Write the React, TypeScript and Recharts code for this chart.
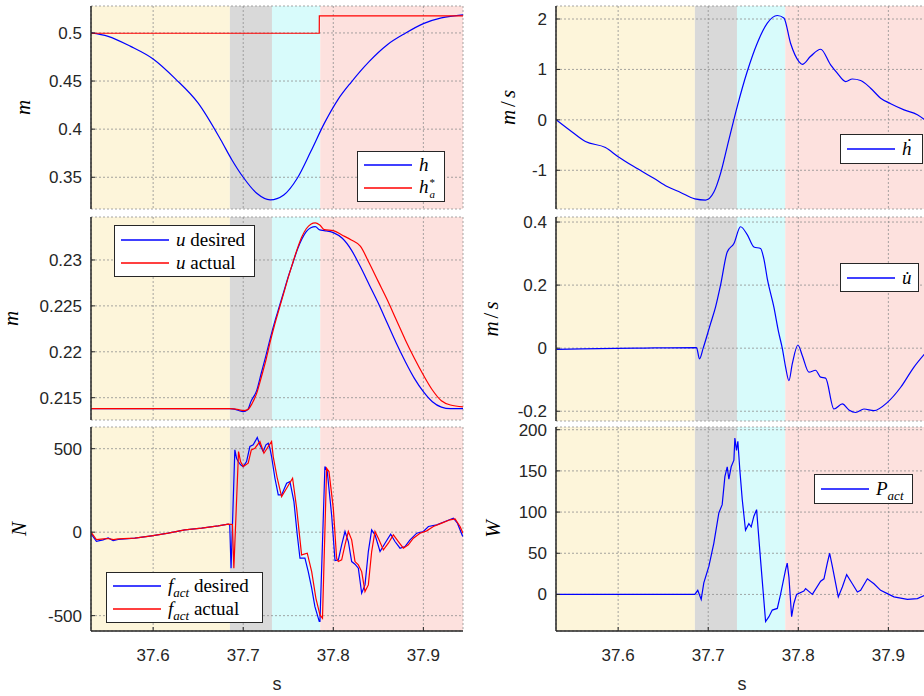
import { LineChart, Line, XAxis, YAxis, CartesianGrid, ReferenceArea, Legend, Label } from 'recharts'
import type { ReactNode } from 'react'

const SANS = '"Liberation Sans", Arial, Helvetica, sans-serif'
const SERIF = '"Liberation Serif", "Times New Roman", serif'
const INK = '#262626'
const BLUE = '#0000FF'
const RED = '#FF0000'

const xDomain: [number, number] = [37.531, 37.944]
const xTicks = [37.6, 37.7, 37.8, 37.9]

// phase bands shared by all panels
const phaseEdges = [37.531, 37.6852, 37.7319, 37.7855, 37.944]
const phaseColors = ['#FDF5DA', '#D9D9D9', '#D8FBFB', '#FDE1DE']

// h and h*_a
const hT = [37.531, 37.55, 37.575, 37.6, 37.625, 37.65, 37.675, 37.6875, 37.7, 37.715, 37.73, 37.745, 37.76, 37.775, 37.79, 37.805, 37.82, 37.84, 37.86, 37.88, 37.9, 37.92, 37.944]
const hV = [0.5, 0.4965, 0.486, 0.4729, 0.452, 0.427, 0.389, 0.368, 0.35, 0.3333, 0.3265, 0.3316, 0.349, 0.3767, 0.406, 0.4305, 0.449, 0.4705, 0.4878, 0.4997, 0.5097, 0.5156, 0.5187]
const hStarT = [37.531, 37.7844, 37.7845, 37.944]
const hStarV = [0.4997, 0.4997, 0.5177, 0.5177]

// u desired / actual
const uT = [37.531, 37.685, 37.69, 37.695, 37.7, 37.705, 37.7085, 37.715, 37.72, 37.725, 37.73, 37.735, 37.74, 37.745, 37.75, 37.755, 37.76, 37.765, 37.77, 37.775, 37.78, 37.785, 37.79, 37.8, 37.81, 37.82, 37.83, 37.84, 37.85, 37.86, 37.87, 37.88, 37.89, 37.9, 37.91, 37.92, 37.93, 37.944]
const uV = [0.2138, 0.2138, 0.21375, 0.2136, 0.21348, 0.2137, 0.21457, 0.2158, 0.21766, 0.2195, 0.22147, 0.22328, 0.2249, 0.22655, 0.22819, 0.22964, 0.2311, 0.23225, 0.23308, 0.2335, 0.23363, 0.23327, 0.2332, 0.23298, 0.23236, 0.2311, 0.22928, 0.22728, 0.22528, 0.2231, 0.22093, 0.21892, 0.21711, 0.21566, 0.21456, 0.21397, 0.2138, 0.2138]
const uActT = [37.531, 37.685, 37.695, 37.7, 37.705, 37.71, 37.715, 37.72, 37.725, 37.73, 37.735, 37.74, 37.745, 37.75, 37.755, 37.76, 37.765, 37.77, 37.775, 37.78, 37.785, 37.79, 37.8, 37.81, 37.82, 37.83, 37.84, 37.85, 37.86, 37.87, 37.88, 37.89, 37.9, 37.91, 37.92, 37.93, 37.944]
const uActV = [0.2138, 0.2138, 0.2137, 0.2136, 0.2137, 0.2144, 0.2155, 0.2172, 0.219, 0.2211, 0.223, 0.2247, 0.2264, 0.2281, 0.2297, 0.2312, 0.2325, 0.2334, 0.2339, 0.23405, 0.2338, 0.2333, 0.23319, 0.2327, 0.23218, 0.2315, 0.22964, 0.22764, 0.22564, 0.22346, 0.22129, 0.2193, 0.21747, 0.21584, 0.21467, 0.2142, 0.214]

// f_act desired / actual (N)
const fDesT = [37.531, 37.537, 37.5444, 37.55, 37.5556, 37.5611, 37.5796, 37.5982, 37.6167, 37.6352, 37.6538, 37.6722, 37.6833, 37.685, 37.6865, 37.6907, 37.6926, 37.6944, 37.6971, 37.7, 37.7037, 37.7074, 37.7111, 37.7156, 37.7185, 37.7222, 37.7252, 37.7278, 37.7296, 37.7315, 37.7352, 37.7389, 37.7426, 37.7482, 37.7519, 37.7563, 37.76, 37.763, 37.7685, 37.7722, 37.776, 37.7796, 37.7844, 37.7852, 37.7907, 37.7933, 37.7982, 37.8019, 37.8056, 37.8093, 37.813, 37.8167, 37.8204, 37.8241, 37.8278, 37.8315, 37.8352, 37.8389, 37.8426, 37.8463, 37.8519, 37.8574, 37.8637, 37.8685, 37.8741, 37.8796, 37.8852, 37.8926, 37.9, 37.9056, 37.9148, 37.9241, 37.9333, 37.9378, 37.9437]
const fDesV = [-10, -55, -46, -35, -50, -44, -36, -22, -6, 14, 24, 38, 48, 44, -216, 493, 443, 423, 403, 393, 423, 513, 523, 567, 523, 483, 523, 533, 503, 453, 323, 223, 223, 293, 303, 183, -16, -156, -156, -236, -335, -446, -535, -535, 393, 363, 100, -170, -166, -76, 4, -56, -176, -192, -216, -365, -316, -116, 14, -16, -116, -66, -12, -56, -96, -86, -46, -6, 4, 34, 44, 64, 84, 54, -26]
const fActT = [37.531, 37.537, 37.545, 37.55, 37.556, 37.5611, 37.5796, 37.5982, 37.6167, 37.6352, 37.6538, 37.6722, 37.6833, 37.688, 37.6896, 37.6948, 37.697, 37.7, 37.7055, 37.709, 37.713, 37.7185, 37.723, 37.7278, 37.7315, 37.7333, 37.7378, 37.7426, 37.7482, 37.7548, 37.7593, 37.7648, 37.7711, 37.776, 37.7807, 37.7852, 37.788, 37.7926, 37.7952, 37.8, 37.8037, 37.8056, 37.8093, 37.813, 37.8167, 37.8204, 37.8241, 37.8278, 37.8315, 37.8352, 37.8389, 37.8426, 37.8463, 37.85, 37.8556, 37.8611, 37.8667, 37.8722, 37.8778, 37.8833, 37.8889, 37.8963, 37.9037, 37.9111, 37.9204, 37.9296, 37.9352, 37.9407, 37.944]
const fActV = [0, -45, -40, -38, -45, -40, -36, -22, -6, 14, 24, 38, 48, 46, -216, 483, 423, 393, 413, 493, 503, 543, 473, 513, 543, 453, 323, 213, 263, 323, 144, -136, -126, -236, -396, -496, -516, 383, 363, 144, -156, -176, -166, -76, 4, -46, -176, -196, -236, -356, -316, -116, 4, -36, -106, -66, -16, -56, -96, -76, -36, -6, 8, 34, 54, 74, 80, 34, -6]

// h dot (m/s)
const hDotT = [37.5314, 37.546, 37.5637, 37.5859, 37.6, 37.6174, 37.6396, 37.6544, 37.6693, 37.6851, 37.697, 37.7063, 37.7137, 37.7211, 37.7322, 37.7433, 37.7544, 37.7656, 37.7767, 37.784, 37.7914, 37.8007, 37.8044, 37.8137, 37.8248, 37.8359, 37.8433, 37.8526, 37.86, 37.8692, 37.8803, 37.8914, 37.9026, 37.9174, 37.9322, 37.9403]
const hDotV = [0, -0.2, -0.43, -0.55, -0.73, -0.926, -1.157, -1.32, -1.44, -1.567, -1.59, -1.43, -1.06, -0.53, 0.264, 0.958, 1.52, 1.92, 2.07, 2.02, 1.52, 1.157, 1.1, 1.26, 1.4, 1.09, 0.926, 0.76, 0.81, 0.78, 0.628, 0.43, 0.32, 0.198, 0.1, 0]

// u dot (m/s)
const uDotT = [37.5314, 37.56, 37.62, 37.687, 37.6903, 37.6944, 37.7026, 37.7081, 37.7137, 37.7211, 37.7285, 37.7359, 37.7433, 37.7507, 37.7581, 37.762, 37.7656, 37.7729, 37.7782, 37.7822, 37.7859, 37.7896, 37.7933, 37.7996, 37.8044, 37.8118, 37.8192, 37.8248, 37.8303, 37.8396, 37.8489, 37.8562, 37.8637, 37.8729, 37.884, 37.8989, 37.9137, 37.9284, 37.9403]
const uDotV = [-0.004, -0.002, 0, 0.002, -0.034, 0, 0.078, 0.13, 0.2, 0.305, 0.332, 0.385, 0.36, 0.321, 0.316, 0.28, 0.22, 0.13, 0.05, 0, -0.06, -0.103, -0.05, 0.01, -0.023, -0.076, -0.07, -0.092, -0.095, -0.193, -0.177, -0.196, -0.204, -0.193, -0.198, -0.172, -0.124, -0.06, -0.018]

// P_act (W)
const pT = [37.531, 37.6851, 37.6884, 37.6922, 37.6951, 37.7007, 37.7062, 37.7118, 37.7155, 37.7185, 37.7211, 37.7229, 37.7255, 37.7285, 37.7296, 37.7314, 37.7329, 37.7351, 37.7378, 37.7414, 37.7451, 37.7477, 37.7507, 37.7537, 37.7581, 37.7637, 37.7674, 37.7711, 37.7767, 37.7803, 37.7859, 37.7877, 37.7896, 37.7926, 37.7951, 37.7981, 37.8062, 37.8081, 37.8156, 37.8248, 37.8285, 37.8322, 37.8348, 37.8378, 37.8444, 37.8489, 37.8537, 37.86, 37.8656, 37.8692, 37.8767, 37.884, 37.8914, 37.8989, 37.9062, 37.9211, 37.9322, 37.9403]
const pV = [0, 0, 5, -6, 14, 34, 62, 99, 109, 143, 155, 140, 155, 163, 190, 175, 186, 151, 115, 78, 86, 82, 95, 103, 42, -33, -27, -19, -17, 0, 30, 38, 21, -27, -11, 0, 4, 7, 0, 16, 19, 38, 50, 34, -3, 9, 24, 13, 3, 5, 19, 13, 5, 1, -3, -6, -5, -1]

const zip = (t: number[], v: number[]) => t.map((x, i) => ({ t: x, v: v[i] }))

type Series = { t: number[]; v: number[]; color: string; smooth?: boolean }
type LegendItem = { color: string; label: ReactNode }
type LegendSpec = { x: number; y: number; w: number; h: number; items: LegendItem[] }

const Sub = ({ children }: { children: ReactNode }) => (
  <span style={{ fontSize: 13, fontStyle: 'italic', position: 'relative', top: 5 }}>{children}</span>
)

function LegendBox({ spec }: { spec: LegendSpec }) {
  return (
    <div style={{
      width: spec.w, height: spec.h, boxSizing: 'border-box', border: `1px solid ${INK}`, background: '#fff',
      display: 'flex', flexDirection: 'column', justifyContent: 'center', padding: '0 6px',
      fontFamily: SERIF, fontSize: 19, color: '#000',
    }}>
      {spec.items.map((it, i) => (
        <div key={i} style={{ display: 'flex', alignItems: 'center', height: 23, whiteSpace: 'nowrap' }}>
          <svg width={48} height={6} style={{ marginRight: 7, flex: 'none', display: 'block' }}>
            <line x1={0} y1={3} x2={48} y2={3} stroke={it.color} strokeWidth={1.5} />
          </svg>
          <span>{it.label}</span>
        </div>
      ))}
    </div>
  )
}

function yLabel(text: ReactNode, x: number) {
  return (
    <Label content={(p: any) => {
      const vb = p.viewBox
      const cy = vb.y + vb.height / 2
      return (
        <text x={x} y={cy} transform={`rotate(-90 ${x} ${cy})`} textAnchor="middle"
          style={{ fontFamily: SERIF, fontSize: 21, fontStyle: 'italic', fill: '#000' }}>{text}</text>
      )
    }} />
  )
}

interface PanelProps {
  left: number; top: number; width: number; right: number
  marginTop: number; plotH: number; bottom?: boolean
  yDomain: [number, number]; yTicks: number[]; label: ReactNode; labelX: number
  series: Series[]; legend: LegendSpec
}

function Panel(p: PanelProps) {
  const xH = p.bottom ? 65 : 0
  const height = p.marginTop + p.plotH + xH + (p.bottom ? 0 : 1)
  return (
    <div style={{ position: 'absolute', left: p.left, top: p.top }}>
      <LineChart width={p.width} height={height} margin={{ top: p.marginTop, right: p.right, bottom: p.bottom ? 0 : 1, left: 0 }}>
        {phaseColors.map((c, i) => (
          <ReferenceArea key={i} x1={phaseEdges[i]} x2={phaseEdges[i + 1]} fill={c} fillOpacity={1} stroke="none"
            ifOverflow="hidden" zIndex={-150} />
        ))}
        <CartesianGrid stroke="#8f8f8f" strokeDasharray="2 2" strokeWidth={0.8} zIndex={-50} />
        <XAxis type="number" dataKey="t" domain={xDomain} ticks={xTicks} allowDataOverflow interval={0}
          height={xH} tickSize={-4} tickMargin={22}
          tickFormatter={p.bottom ? (v: number) => String(v) : () => ''}
          axisLine={{ stroke: INK, strokeWidth: 1.5 }} tickLine={{ stroke: INK }}
          tick={{ fill: INK, fontSize: 17, fontFamily: SANS }}
          label={p.bottom ? { value: 's', position: 'insideBottom', offset: 6, fill: INK, fontSize: 18, fontFamily: SANS } : undefined} />
        <YAxis type="number" domain={p.yDomain} ticks={p.yTicks} allowDataOverflow interval={0} width={91}
          tickSize={-4} tickMargin={13} tickFormatter={(v: number) => String(v)}
          axisLine={{ stroke: INK, strokeWidth: 1.5 }} tickLine={{ stroke: INK }}
          tick={{ fill: INK, fontSize: 17, fontFamily: SANS }}>
          {yLabel(p.label, p.labelX)}
        </YAxis>
        {p.series.map((s, i) => (
          <Line key={i} data={zip(s.t, s.v)} dataKey="v" type={s.smooth ? 'monotone' : 'linear'} stroke={s.color}
            strokeWidth={1.2} dot={false} isAnimationActive={false} />
        ))}
        <Legend layout="vertical" align="center" verticalAlign="middle"
          wrapperStyle={{ left: p.legend.x, top: p.legend.y, width: p.legend.w, height: p.legend.h }}
          content={() => <LegendBox spec={p.legend} />} />
      </LineChart>
    </div>
  )
}

const slashLabel = <><tspan>m</tspan><tspan dx={3} fontStyle="normal">/</tspan><tspan dx={3}>s</tspan></>

export default function App() {
  const L = { left: 0, width: 470, right: 7 }
  const R = { left: 465, width: 463, right: 0 }
  return (
    <div style={{ position: 'fixed', left: 0, top: 0, width: 924, height: 696, overflow: 'hidden', background: '#fff' }}>
      <Panel {...L} top={0} marginTop={6} plotH={203} yDomain={[0.317, 0.528]} yTicks={[0.35, 0.4, 0.45, 0.5]}
        label="m" labelX={30}
        series={[{ t: hT, v: hV, color: BLUE, smooth: true }, { t: hStarT, v: hStarV, color: RED }]}
        legend={{ x: 357, y: 151, w: 88, h: 51, items: [
          { color: BLUE, label: <i>h</i> },
          { color: RED, label: <><i>h</i><span style={{ display: 'inline-flex', flexDirection: 'column', fontSize: 11, lineHeight: '12px', verticalAlign: 'middle', marginLeft: 1 }}><span>*</span><i>a</i></span></> },
        ] }} />
      <Panel {...L} top={210} marginTop={7} plotH={203} yDomain={[0.21257, 0.23468]} yTicks={[0.215, 0.22, 0.225, 0.23]}
        label="m" labelX={18}
        series={[{ t: uT, v: uV, color: BLUE, smooth: true }, { t: uActT, v: uActV, color: RED, smooth: true }]}
        legend={{ x: 114, y: 15, w: 141, h: 52, items: [
          { color: BLUE, label: <><i>u</i> desired</> },
          { color: RED, label: <><i>u</i> actual</> },
        ] }} />
      <Panel {...L} top={420} marginTop={7} plotH={204} bottom yDomain={[-592, 630]} yTicks={[-500, 0, 500]}
        label="N" labelX={26}
        series={[{ t: fDesT, v: fDesV, color: BLUE }, { t: fActT, v: fActV, color: RED }]}
        legend={{ x: 106, y: 152, w: 157, h: 51, items: [
          { color: BLUE, label: <><i>f</i><Sub>act</Sub> desired</> },
          { color: RED, label: <><i>f</i><Sub>act</Sub> actual</> },
        ] }} />

      <Panel {...R} top={0} marginTop={6} plotH={203} yDomain={[-1.768, 2.258]} yTicks={[-1, 0, 1, 2]}
        label={slashLabel} labelX={50}
        series={[{ t: hDotT, v: hDotV, color: BLUE, smooth: true }]}
        legend={{ x: 375, y: 134, w: 83, h: 30, items: [{ color: BLUE, label: <i>ḣ</i> }] }} />
      <Panel {...R} top={210} marginTop={7} plotH={204} yDomain={[-0.231, 0.416]} yTicks={[-0.2, 0, 0.2, 0.4]}
        label={slashLabel} labelX={33}
        series={[{ t: uDotT, v: uDotV, color: BLUE, smooth: true }]}
        legend={{ x: 375, y: 53, w: 79, h: 29, items: [{ color: BLUE, label: <i>u&#x307;</i> }] }} />
      <Panel {...R} top={420} marginTop={7} plotH={204} bottom yDomain={[-44.4, 203.3]} yTicks={[0, 50, 100, 150, 200]}
        label="W" labelX={35}
        series={[{ t: pT, v: pV, color: BLUE }]}
        legend={{ x: 349, y: 54, w: 99, h: 30, items: [{ color: BLUE, label: <><i>P</i><Sub>act</Sub></> }] }} />
    </div>
  )
}
